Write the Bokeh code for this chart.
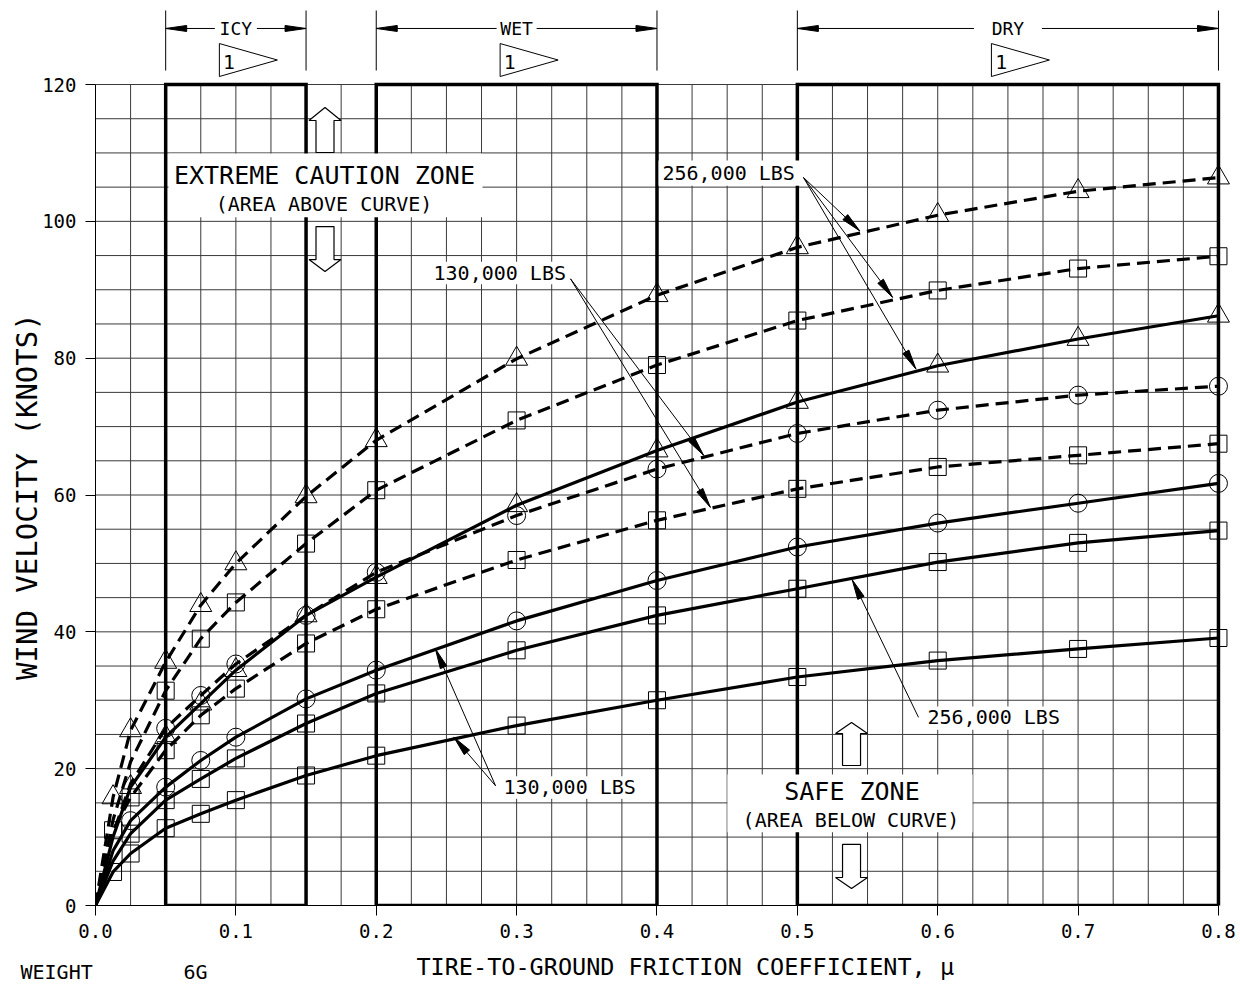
import math
from bokeh.plotting import figure
from bokeh.models import FixedTicker, PrintfTickFormatter, Label, Range1d, Title
from bokeh.embed import file_html
from bokeh.resources import INLINE

# ---------------- data ----------------
MU = [0.0, 0.0125, 0.025, 0.05, 0.075, 0.1, 0.15, 0.2, 0.3, 0.4, 0.5, 0.6, 0.7, 0.8]

# dashed curves
A_LINE = [0, 15.8, 25.6, 35.6, 43.9, 50.0, 59.8, 68.0, 79.9, 89.2, 96.2, 100.9, 104.4, 106.4]
B_LINE = [0, 12.5, 21.0, 31.4, 39.0, 44.3, 52.9, 60.7, 70.9, 79.0, 85.5, 89.9, 93.1, 94.9]
D_LINE = [0, 10.5, 17.8, 25.9, 30.7, 35.3, 42.4, 48.7, 57.0, 63.8, 69.0, 72.4, 74.6, 75.9]
E_LINE = [0, 11.0, 15.8, 22.7, 27.8, 31.7, 38.3, 43.3, 50.5, 56.3, 60.9, 64.1, 65.8, 67.5]
# solid curves
C_LINE = [0, 10.0, 17.3, 24.6, 29.5, 34.4, 42.4, 48.0, 58.5, 66.5, 73.6, 78.9, 82.8, 86.2]
F_LINE = [0, 8.0, 12.4, 17.3, 21.2, 24.6, 30.2, 34.4, 41.6, 47.5, 52.4, 55.9, 58.8, 61.7]
G_LINE = [0, 6.5, 10.5, 15.4, 18.5, 21.5, 26.6, 31.0, 37.3, 42.4, 46.3, 50.2, 53.0, 54.8]
H_LINE = [0, 4.9, 7.6, 11.3, 13.4, 15.4, 19.0, 21.9, 26.3, 30.0, 33.4, 35.8, 37.5, 39.1]

# plotted symbols
A_MX = [0.0125, 0.025, 0.05, 0.075, 0.1, 0.15, 0.2, 0.3, 0.4, 0.5, 0.6, 0.7, 0.8]
A_MY = [15.8, 25.6, 35.6, 43.9, 50.0, 59.8, 68.0, 79.9, 89.2, 96.2, 100.9, 104.4, 106.4]
B_MX = [0.05, 0.075, 0.1, 0.15, 0.2, 0.3, 0.4, 0.5, 0.6, 0.7, 0.8]
B_MY = [31.4, 39.0, 44.3, 52.9, 60.7, 70.9, 79.0, 85.5, 89.9, 93.1, 94.9]
C_MX = [0.025, 0.05, 0.075, 0.1, 0.15, 0.2, 0.3, 0.4, 0.5, 0.6, 0.7, 0.8]
C_MY = [17.3, 24.6, 29.5, 34.4, 42.4, 48.0, 58.5, 66.5, 73.6, 78.9, 82.8, 86.2]
D_MX = [0.05, 0.075, 0.1, 0.15, 0.2, 0.3, 0.4, 0.5, 0.6, 0.7, 0.8]
D_MY = [25.9, 30.7, 35.3, 42.4, 48.7, 57.0, 63.8, 69.0, 72.4, 74.6, 75.9]
E_MX = [0.0125, 0.025, 0.05, 0.075, 0.1, 0.15, 0.2, 0.3, 0.4, 0.5, 0.6, 0.7, 0.8]
E_MY = [11.0, 15.8, 22.7, 27.8, 31.7, 38.3, 43.3, 50.5, 56.3, 60.9, 64.1, 65.8, 67.5]
F_MX = [0.025, 0.05, 0.075, 0.1, 0.15, 0.2, 0.3, 0.4, 0.5, 0.6, 0.7, 0.8]
F_MY = [12.4, 17.3, 21.2, 24.6, 30.2, 34.4, 41.6, 47.5, 52.4, 55.9, 58.8, 61.7]
G_MX = [0.025, 0.05, 0.075, 0.1, 0.15, 0.2, 0.3, 0.4, 0.5, 0.6, 0.7, 0.8]
G_MY = [10.5, 15.4, 18.5, 21.5, 26.6, 31.0, 37.3, 42.4, 46.3, 50.2, 53.0, 54.8]
H_MX = [0.0125, 0.025, 0.05, 0.075, 0.1, 0.15, 0.2, 0.3, 0.4, 0.5, 0.6, 0.7, 0.8]
H_MY = [4.9, 7.6, 11.3, 13.4, 15.4, 19.0, 21.9, 26.3, 30.0, 33.4, 35.8, 37.5, 39.1]

ZONES = [(0.05, 0.15, "ICY"), (0.2, 0.4, "WET"), (0.5, 0.8, "DRY")]
X_TICKS = [0.0, 0.1, 0.2, 0.3, 0.4, 0.5, 0.6, 0.7, 0.8]
Y_TICKS = [0, 20, 40, 60, 80, 100, 120]

MONO = "DejaVu Sans Mono"

# ---------------- figure ----------------
X_END, Y_END = 0.81, 132.28
FW, FH = 1137, 905
SX, SY = FW / X_END, FH / Y_END   # pixels per data unit

p = figure(width=1240, height=985, x_range=Range1d(0, X_END), y_range=Range1d(0, Y_END),
           output_backend="svg", toolbar_location=None, title=None,
           min_border_left=95, min_border_right=8, min_border_top=0, min_border_bottom=80)
p.grid.visible = False
p.outline_line_color = None
p.background_fill_color = "white"
p.border_fill_color = "white"

for ax, ticks in ((p.xaxis, X_TICKS), (p.yaxis, Y_TICKS)):
    ax.ticker = FixedTicker(ticks=ticks, minor_ticks=[])
    ax.major_tick_out = 10
    ax.major_tick_in = 0
    ax.minor_tick_out = 0
    ax.minor_tick_in = 0
    ax.axis_line_color = "black"
    ax.major_tick_line_color = "black"
    ax.major_label_text_font = MONO
    ax.major_label_text_font_size = "19px"
    ax.major_label_text_color = "black"
    ax.axis_label_text_font = MONO
    ax.axis_label_text_font_style = "normal"
    ax.axis_label_text_color = "black"
p.xaxis.formatter = PrintfTickFormatter(format="%.1f")
p.xaxis.bounds = (0, 0.8)
p.yaxis.bounds = (0, 120)
p.xaxis.major_label_standoff = 8
p.yaxis.major_label_standoff = 9
# non-breaking spaces only shift the titles to where they sit in the original
p.xaxis.axis_label = "\u00a0\u00a0\u00a0TIRE-TO-GROUND FRICTION COEFFICIENT, μ"
p.xaxis.axis_label_text_font_size = "23.5px"
p.xaxis.axis_label_standoff = 12
p.yaxis.axis_label = "WIND VELOCITY (KNOTS)" + "\u00a0" * 5
p.yaxis.axis_label_text_font_size = "29px"
p.yaxis.axis_label_standoff = -5

# footer texts (cut by the page bottom in the original)
for txt, off in (("WEIGHT", -75), ("6G", 88)):
    p.add_layout(Title(text=txt, align="left", offset=off, vertical_align="top", standoff=-48,
                       text_font=MONO, text_font_size="20px", text_font_style="normal",
                       text_color="black"), "below")

# ---------------- grid (segments limited to chart area) ----------------
gx = [i * 0.025 for i in range(33)]
gy = [i * 5 for i in range(25)]
p.segment(x0=gx, y0=[0] * len(gx), x1=gx, y1=[120] * len(gx), line_color="#3a3a3a", line_width=1)
p.segment(x0=[0] * len(gy), y0=gy, x1=[0.8] * len(gy), y1=gy, line_color="#3a3a3a", line_width=1)

# ---------------- zone rectangles ----------------
p.quad(left=[z[0] for z in ZONES], right=[z[1] for z in ZONES], bottom=[0] * 3, top=[120] * 3,
       fill_color=None, line_color="black", line_width=3.5, line_join="miter")

# ---------------- curves ----------------
curves = [
    (A_LINE, "dashed", A_MX, A_MY, "triangle"),
    (B_LINE, "dashed", B_MX, B_MY, "square"),
    (D_LINE, "dashed", D_MX, D_MY, "circle"),
    (E_LINE, "dashed", E_MX, E_MY, "square"),
    (C_LINE, "solid", C_MX, C_MY, "triangle"),
    (F_LINE, "solid", F_MX, F_MY, "circle"),
    (G_LINE, "solid", G_MX, G_MY, "square"),
    (H_LINE, "solid", H_MX, H_MY, "square"),
]
MSIZE = {"triangle": 22, "square": 17, "circle": 18}
for ly, style, mx, my, mk in curves:
    p.line(MU, ly, line_color="black", line_width=3.2,
           line_dash="13 7" if style == "dashed" else "solid")
for ly, style, mx, my, mk in curves:
    p.scatter(mx, my, marker=mk, size=MSIZE[mk], fill_color=None,
              line_color="black", line_width=1)

# ---------------- white label boxes ----------------
boxes = [  # left, right, bottom, top (data units)
    (0.052, 0.2757, 100.6, 109.9),   # extreme caution
    (0.4502, 0.6248, 10.7, 19.15),   # safe zone
    (0.4011, 0.5022, 105.2, 108.9),  # 256,000 top
    (0.2379, 0.3377, 90.8, 94.1),    # 130,000 top
    (0.2871, 0.3882, 15.6, 18.9),    # 130,000 bottom
    (0.5877, 0.6903, 25.7, 29.1),    # 256,000 bottom
]
p.quad(left=[b[0] for b in boxes], right=[b[1] for b in boxes],
       bottom=[b[2] for b in boxes], top=[b[3] for b in boxes],
       fill_color="white", line_color=None)

# ---------------- hollow block arrows ----------------
def block_arrow(xc, y_tip, y_head, y_tail, hh=16, hs=9):
    a, s = hh / SX, hs / SX
    return ([xc, xc + a, xc + s, xc + s, xc - s, xc - s, xc - a],
            [y_tip, y_head, y_head, y_tail, y_tail, y_head, y_head])

blocks = [
    block_arrow(0.1635, 116.64, 114.74, 110.06),
    block_arrow(0.1635, 92.66, 94.41, 99.24),
    block_arrow(0.5386, 26.75, 25.14, 20.46),
    block_arrow(0.5386, 2.48, 4.09, 8.92),
]
p.patches([b[0] for b in blocks], [b[1] for b in blocks], fill_color="white",
          line_color="black", line_width=1.2)

# ---------------- leader arrows ----------------
leaders = [
    ((0.5044, 106.4), [(0.5445, 98.6), (0.5678, 88.9), (0.5845, 78.4)]),
    ((0.3384, 91.6), [(0.4332, 65.8), (0.4380, 58.2)]),
    ((0.2850, 17.5), [(0.2422, 37.5), (0.2553, 24.6)]),
    ((0.5863, 27.5), [(0.5391, 47.6)]),
]
sx0, sy0, sx1, sy1, hx, hy = [], [], [], [], [], []
for (ox, oy), tips in leaders:
    for tx, ty in tips:
        sx0.append(ox); sy0.append(oy); sx1.append(tx); sy1.append(ty)
        vx, vy = (tx - ox) * SX, (ty - oy) * SY
        n = math.hypot(vx, vy)
        ux, uy = vx / n, vy / n
        L, w = 20, 3.5
        bx, by = -ux * L, -uy * L
        nx, ny = -uy * w, ux * w
        hx.append([tx, tx + (bx + nx) / SX, tx + (bx - nx) / SX])
        hy.append([ty, ty + (by + ny) / SY, ty + (by - ny) / SY])
p.segment(x0=sx0, y0=sy0, x1=sx1, y1=sy1, line_color="black", line_width=1)
p.patches(hx, hy, fill_color="black", line_color="black", line_width=1)

# ---------------- top zone brackets ----------------
Y_BR_LO, Y_BR_HI, Y_BR = 122.04, 130.82, 128.19
GAPS = {"ICY": 21, "WET": 20, "DRY": 34}
vx0, hx0, hx1, ahx, ahy, fx, fy = [], [], [], [], [], [], []
for x0, x1, name in ZONES:
    xc = (x0 + x1) / 2
    vx0 += [x0, x1]
    g = GAPS[name] / SX
    hx0 += [x0, xc + g]
    hx1 += [xc - g, x1]
    al, aw = 21 / SX, 3 / SY
    ahx += [[x0, x0 + al, x0 + al], [x1, x1 - al, x1 - al]]
    ahy += [[Y_BR, Y_BR + aw, Y_BR - aw], [Y_BR, Y_BR + aw, Y_BR - aw]]
    fl = xc - 16.5 / SX
    fx.append([fl, fl, fl + 58 / SX])
    fy.append([125.99, 121.17, 123.58])
    p.add_layout(Label(x=xc, y=Y_BR, text=name, text_align="center", text_baseline="middle",
                       text_font=MONO, text_font_size="18px", text_color="black"))
    p.add_layout(Label(x=fl + 4 / SX, y=123.29, text="1", text_align="left", text_baseline="middle",
                       text_font="DejaVu Sans", text_font_size="19px", text_color="black"))
p.segment(x0=vx0, y0=[Y_BR_LO] * len(vx0), x1=vx0, y1=[Y_BR_HI] * len(vx0), line_color="black", line_width=1)
p.segment(x0=hx0, y0=[Y_BR] * len(hx0), x1=hx1, y1=[Y_BR] * len(hx0), line_color="black", line_width=1)
p.patches(ahx, ahy, fill_color="black", line_color="black", line_width=1)
p.patches(fx, fy, fill_color=None, line_color="black", line_width=1)

# ---------------- texts ----------------
def lab(x, y, t, size, align="center", baseline="middle"):
    p.add_layout(Label(x=x, y=y, text=t, text_align=align, text_baseline=baseline,
                       text_font=MONO, text_font_size=size, text_color="black"))

lab(0.1631, 106.7, "EXTREME CAUTION ZONE", "25px")
lab(0.1628, 102.5, "(AREA ABOVE CURVE)", "20px")
lab(0.5389, 16.66, "SAFE ZONE", "25px")
lab(0.5382, 12.5, "(AREA BELOW CURVE)", "20px")
lab(0.4039, 107.1, "256,000 LBS", "20px", align="left")
lab(0.2408, 92.5, "130,000 LBS", "20px", align="left")
lab(0.2906, 17.25, "130,000 LBS", "20px", align="left")
lab(0.5927, 27.5, "256,000 LBS", "20px", align="left")

open("out.html", "w").write(file_html(p, INLINE))
